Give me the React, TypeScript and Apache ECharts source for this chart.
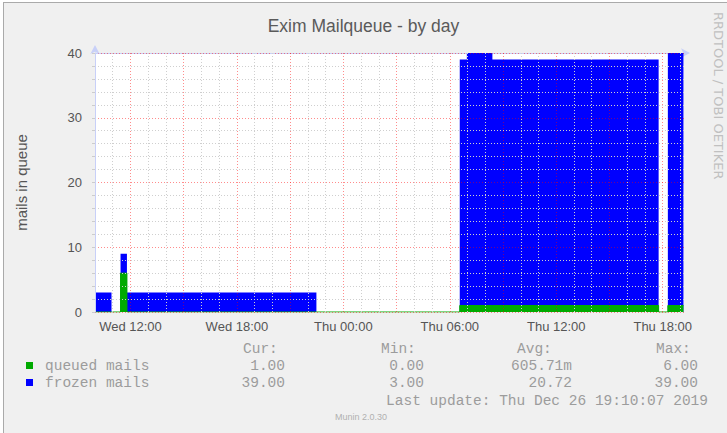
import { useEffect, useRef } from "react";
import * as echarts from "echarts";

const chartTitle = "Exim Mailqueue - by day";
const yAxisName = "mails in queue";

// time axis in hours since Wed 00:00
const axisStartHour = 10;
const axisEndHour = 43.2;

// data segments (hours since Wed 00:00)
const segStartHour = [10.0, 10.93, 11.44, 11.8, 22.48, 30.56, 30.96, 32.4, 41.77, 42.29];
const segEndHour = [10.93, 11.44, 11.8, 22.48, 30.56, 30.96, 32.4, 41.77, 42.29, 43.17];
const queuedMails: (number | null)[] = [0, 0, 6, 0, 0, 1, 1, 1, 0, 1];
const frozenMails: (number | null)[] = [3, null, 3, 3, null, 38, 39, 38, null, 39];

const xTickHours = [12, 18, 24, 30, 36, 42];
const xTickLabels = ["Wed 12:00", "Wed 18:00", "Thu 00:00", "Thu 06:00", "Thu 12:00", "Thu 18:00"];

const legendHeaders = ["Cur:", "Min:", "Avg:", "Max:"];
const seriesNames = ["queued mails", "frozen mails"];
const queuedStats = ["1.00", "0.00", "605.71m", "6.00"];
const frozenStats = ["39.00", "3.00", "20.72", "39.00"];
const lastUpdate = "Last update: Thu Dec 26 19:10:07 2019";
const footerText = "Munin 2.0.30";
const sideText = "RRDTOOL / TOBI OETIKER";

const GREEN = "#00AA00";
const BLUE = "#0000FF";
const MAJOR = "rgba(255,0,0,0.45)";
const MINOR = "#cfcfcf";
const AXIS_BLUE = "#C8D0F8";

function buildData(values: (number | null)[]) {
  const out: any[] = [];
  for (let i = 0; i < values.length; i++) {
    const v = values[i];
    if (v === null) {
      out.push([segStartHour[i], null]);
    } else {
      out.push([segStartHour[i], v]);
      out.push([segEndHour[i], v]);
    }
  }
  return out;
}

export default function App() {
  const ref = useRef<HTMLDivElement>(null);
  useEffect(() => {
    if (!ref.current) return;
    const chart = echarts.init(ref.current, null, { renderer: "svg" });
    const totals = frozenMails.map((f, i) =>
      f === null ? null : f + (queuedMails[i] ?? 0)
    );
    const mono = "Liberation Mono";
    const legendColor = "#9c9c9c";
    const colHeaderX = [243, 381, 517, 656];
    const colValueRight = [285, 424, 572, 698];
    const rowY = [366, 383];
    const statRows = [queuedStats, frozenStats];
    const rowColors = [GREEN, BLUE];

    const graphic: any[] = [
      { type: "rect", shape: { x: 0, y: 0, width: 727, height: 2 }, style: { fill: "#ffffff" }, silent: true },
      { type: "rect", shape: { x: 0, y: 0, width: 3, height: 433 }, style: { fill: "#ffffff" }, silent: true },
      { type: "line", shape: { x1: 3, y1: 2.5, x2: 727, y2: 2.5 }, style: { stroke: "#aaaaaa", lineWidth: 1 }, silent: true },
      { type: "line", shape: { x1: 3.5, y1: 2, x2: 3.5, y2: 433 }, style: { stroke: "#aaaaaa", lineWidth: 1 }, silent: true },
      {
        type: "text", x: 718, y: 12, rotation: -Math.PI / 2,
        style: { text: sideText, fontSize: 13, fontFamily: "DejaVu Sans", fill: "#c0c0c0", textAlign: "left", textVerticalAlign: "middle" },
      },
    ];
    legendHeaders.forEach((h, i) => {
      graphic.push({
        type: "text", x: colHeaderX[i], y: 349,
        style: { text: h, fontSize: 14.5, fontFamily: mono, fill: legendColor, textAlign: "left", textVerticalAlign: "middle" },
      });
    });
    seriesNames.forEach((n, r) => {
      graphic.push({ type: "rect", shape: { x: 26, y: rowY[r] - 4, width: 7, height: 7 }, style: { fill: rowColors[r] } });
      graphic.push({
        type: "text", x: 45, y: rowY[r],
        style: { text: n, fontSize: 14.5, fontFamily: mono, fill: legendColor, textAlign: "left", textVerticalAlign: "middle" },
      });
      statRows[r].forEach((s, i) => {
        graphic.push({
          type: "text", x: colValueRight[i], y: rowY[r],
          style: { text: s, fontSize: 14.5, fontFamily: mono, fill: legendColor, textAlign: "right", textVerticalAlign: "middle" },
        });
      });
    });
    graphic.push({
      type: "text", x: 708, y: 401,
      style: { text: lastUpdate, fontSize: 14.5, fontFamily: mono, fill: legendColor, textAlign: "right", textVerticalAlign: "middle" },
    });
    graphic.push({
      type: "text", x: 361, y: 417,
      style: { text: footerText, fontSize: 9, fontFamily: "Liberation Sans", fill: "#b0b0b0", textAlign: "center", textVerticalAlign: "middle" },
    });

    const option: any = {
      animation: false,
      backgroundColor: "#F0F0F0",
      textStyle: { fontFamily: "Liberation Sans" },
      title: {
        text: chartTitle, left: "center", top: 12,
        textStyle: { fontSize: 17.5, fontWeight: "normal", color: "#5a5a5a", fontFamily: "Liberation Sans" },
      },
      grid: { left: 95, top: 53, right: 43, bottom: 121, show: true, backgroundColor: "#ffffff", borderWidth: 0 },
      xAxis: [
        {
          type: "value", min: axisStartHour, max: axisEndHour, interval: 1, z: 5,
          axisLine: { show: false },
          axisTick: { show: false },
          axisLabel: {
            interval: 0, margin: 8, color: "#555", fontSize: 13, hideOverlap: false,
            formatter: (v: number) => {
              const i = xTickHours.indexOf(Math.round(v * 1000) / 1000);
              return i >= 0 ? xTickLabels[i] : "";
            },
          },
          splitLine: { show: true, showMaxLine: false, lineStyle: { color: [MINOR, MINOR, MAJOR], type: [1, 2], width: 1 } },
        },
        {
          type: "value", min: axisStartHour, max: axisEndHour, z: 1,
          axisLine: { show: true, symbol: ["none", "arrow"], symbolSize: [7, 9], symbolOffset: [0, 6], lineStyle: { color: AXIS_BLUE, width: 1 } },
          axisTick: { show: false }, axisLabel: { show: false }, splitLine: { show: false },
        },
      ],
      yAxis: {
        type: "value", min: 0, max: 40, interval: 2, z: 5,
        name: yAxisName, nameLocation: "middle", nameGap: 66, nameRotate: 90,
        nameTextStyle: { fontSize: 15, color: "#555" },
        axisLine: { show: true, symbol: ["none", "arrow"], symbolSize: [7, 9], symbolOffset: [0, 8], lineStyle: { color: AXIS_BLUE, width: 1 } },
        axisTick: { show: true, length: 3, lineStyle: { color: "#cccccc" } },
        axisLabel: { color: "#555", fontSize: 13, margin: 13, formatter: (v: number) => (v % 10 === 0 ? String(v) : "") },
        splitLine: { show: true, lineStyle: { color: [MAJOR, MINOR, MINOR, MINOR, MINOR], type: [1, 2], width: 1 } },
      },
      series: [
        {
          type: "line", name: "frozen mails", xAxisIndex: 0, data: buildData(totals), symbol: "none", showSymbol: false,
          connectNulls: false, lineStyle: { width: 0, color: BLUE }, itemStyle: { color: BLUE },
          areaStyle: { color: BLUE, opacity: 1 }, z: 2,
        },
        {
          type: "line", name: "queued mails", xAxisIndex: 0, data: buildData(queuedMails), symbol: "none", showSymbol: false,
          connectNulls: false, lineStyle: { width: 1, color: GREEN }, itemStyle: { color: GREEN },
          areaStyle: { color: GREEN, opacity: 1 }, z: 3,
        },
      ],
      graphic,
    };
    chart.setOption(option);
    return () => chart.dispose();
  }, []);
  return <div ref={ref} style={{ position: "absolute", left: 0, top: 0, width: 727, height: 433 }} />;
}
